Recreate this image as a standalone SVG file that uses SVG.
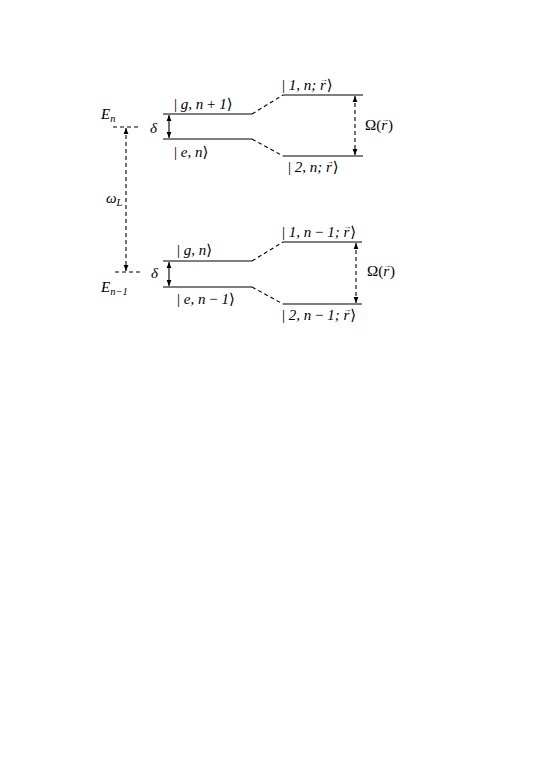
<svg xmlns="http://www.w3.org/2000/svg" width="538" height="760" viewBox="0 0 538 760">
<style>
text{font-family:"Liberation Serif","DejaVu Serif",serif;font-size:15px;font-style:italic;fill:#000}
.up{font-style:normal}
.sub{font-size:10.5px}
.vec{font-size:8px;font-style:normal}
.lvl{stroke:#000;stroke-width:1.2;fill:none}
.dash{stroke:#000;stroke-width:1.1;fill:none;stroke-dasharray:4 3}
.arr{stroke:#000;stroke-width:1.1;fill:none;stroke-dasharray:4 3;marker-start:url(#ah);marker-end:url(#ah)}
.arrs{stroke:#000;stroke-width:1.1;fill:none;marker-start:url(#ah);marker-end:url(#ah)}
</style>
<defs>
<marker id="ah" viewBox="0 0 10 10" refX="10" refY="5" markerWidth="6" markerHeight="6" orient="auto-start-reverse" markerUnits="userSpaceOnUse">
<path d="M0,1 L10,5 L0,9 Z" fill="#000"/>
</marker>
</defs>
<rect width="538" height="760" fill="#fff"/>
<g id="energy-scale">
<text x="101" y="119">E<tspan class="sub" dy="3">n</tspan></text>
<line class="dash" x1="113" y1="127" x2="141" y2="127"/>
<text x="106" y="203">ω<tspan class="sub" dy="3">L</tspan></text>
<line class="dash" x1="115" y1="272" x2="143" y2="272"/>
<text x="101" y="292">E<tspan class="sub" dy="3">n−1</tspan></text>
</g>
<g id="upper-manifold">
<line class="lvl" x1="163" y1="114" x2="252" y2="114"/>
<line class="lvl" x1="163" y1="139" x2="252" y2="139"/>
<line class="lvl" x1="283" y1="95" x2="363" y2="95"/>
<line class="lvl" x1="283" y1="156" x2="363" y2="156"/>
<text x="174" y="109"><tspan class="up">|</tspan> g, n <tspan class="up">+</tspan> 1<tspan class="up">⟩</tspan></text>
<text x="174" y="157"><tspan class="up">|</tspan> e, n<tspan class="up">⟩</tspan></text>
<text x="282" y="90"><tspan class="up">|</tspan> 1, n; r<tspan class="vec" dx="-6" dy="-8">→</tspan><tspan class="up" dx="-1" dy="8">⟩</tspan></text>
<text x="288" y="172"><tspan class="up">|</tspan> 2, n; r<tspan class="vec" dx="-6" dy="-8">→</tspan><tspan class="up" dx="-1" dy="8">⟩</tspan></text>
<text x="150" y="133">δ</text>
<text class="up" x="365" y="130">Ω(<tspan font-style="italic">r</tspan><tspan class="vec" dx="-6" dy="-8">→</tspan><tspan dx="-1" dy="8">)</tspan></text>
</g>
<g id="lower-manifold">
<line class="lvl" x1="163" y1="261" x2="252" y2="261"/>
<line class="lvl" x1="163" y1="287" x2="252" y2="287"/>
<line class="lvl" x1="283" y1="242" x2="362" y2="242"/>
<line class="lvl" x1="283" y1="304" x2="362" y2="304"/>
<text x="177" y="255"><tspan class="up">|</tspan> g, n<tspan class="up">⟩</tspan></text>
<text x="177" y="304"><tspan class="up">|</tspan> e, n <tspan class="up">−</tspan> 1<tspan class="up">⟩</tspan></text>
<text x="282" y="237"><tspan class="up">|</tspan> 1, n <tspan class="up">−</tspan> 1; r<tspan class="vec" dx="-6" dy="-8">→</tspan><tspan class="up" dx="-1" dy="8">⟩</tspan></text>
<text x="282" y="320"><tspan class="up">|</tspan> 2, n <tspan class="up">−</tspan> 1; r<tspan class="vec" dx="-6" dy="-8">→</tspan><tspan class="up" dx="-1" dy="8">⟩</tspan></text>
<text x="151" y="278">δ</text>
<text class="up" x="367" y="276">Ω(<tspan font-style="italic">r</tspan><tspan class="vec" dx="-6" dy="-8">→</tspan><tspan dx="-1" dy="8">)</tspan></text>
</g>
<g id="connectors">
<line class="dash" x1="252" y1="114" x2="283" y2="95"/>
<line class="dash" x1="252" y1="139" x2="283" y2="156"/>
<line class="dash" x1="252" y1="261" x2="283" y2="242"/>
<line class="dash" x1="252" y1="287" x2="283" y2="304"/>
<line class="arr" x1="126" y1="128" x2="126" y2="271"/>
<line class="arrs" x1="169" y1="115" x2="169" y2="138"/>
<line class="arrs" x1="169" y1="262" x2="169" y2="286"/>
<line class="arr" x1="355" y1="96" x2="355" y2="155"/>
<line class="arr" x1="356" y1="243" x2="356" y2="303"/>
</g>
</svg>
